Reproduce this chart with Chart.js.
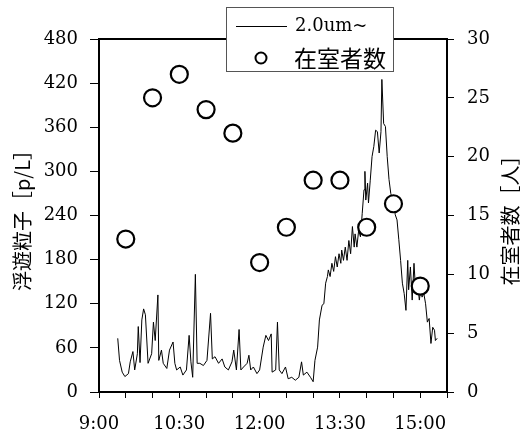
<!DOCTYPE html>
<html>
<head>
<meta charset="utf-8">
<script src="https://cdn.jsdelivr.net/npm/chart.js@4.4.1/dist/chart.umd.min.js"></script>
<style>
  body { margin: 0; background: #fff; }
  canvas { display: block; }
</style>
</head>
<body>
<canvas id="myChart" width="522" height="445"></canvas>
<script>
(function () {
    'use strict'

    // airborne particles >= 2.0um, minutes after 9:00 and p/L
    const dustMinutes = [21, 23, 26, 29, 33, 35, 38, 40, 43, 44, 46, 48, 50, 52, 55, 59, 61, 63, 66, 67,
        70, 72, 76, 79, 83, 85, 87, 91, 94, 98, 101, 103, 105, 108, 110, 113, 117, 121, 125, 127,
        130, 134, 138, 141, 145, 149, 151, 154, 157, 159, 162, 166, 168, 170, 173, 177, 180, 184, 187, 190,
        193, 194, 198, 200, 202, 205, 209, 212, 216, 220, 224, 227, 229, 233, 237, 240, 242, 245, 247, 250,
        252, 254, 256, 257, 259, 261, 263, 265, 267, 269, 271, 272, 274, 276, 278, 280, 282, 284, 286, 287,
        289, 291, 293, 295, 297, 298, 299, 301, 302, 304, 306, 308, 310, 312, 314, 316, 317, 319, 321, 323,
        325, 327, 329, 331, 332, 334, 336, 338, 340, 342, 344, 346, 347, 349, 351, 353, 355, 357, 359, 361,
        362, 364, 366, 368, 370, 372, 374, 376, 377, 379]
    const dustValues = [73, 43, 27, 21, 25, 41, 55, 30, 52, 89, 40, 98, 113, 105, 39, 52, 95, 70, 132, 43,
        57, 39, 32, 57, 68, 39, 30, 34, 23, 30, 77, 41, 20, 160, 39, 39, 36, 43, 107, 45,
        48, 39, 45, 34, 30, 41, 57, 30, 85, 30, 34, 39, 50, 30, 34, 25, 30, 61, 77, 70,
        79, 27, 30, 95, 30, 25, 34, 18, 20, 16, 20, 41, 23, 27, 20, 14, 43, 61, 98, 118,
        120, 148, 157, 166, 157, 175, 164, 184, 170, 188, 175, 193, 179, 197, 179, 206, 188, 225, 197, 215,
        197, 220, 211, 243, 275, 300, 261, 284, 257, 288, 320, 334, 356, 354, 325, 354, 425, 365, 361, 320,
        289, 270, 261, 252, 241, 234, 207, 179, 148, 134, 111, 179, 139, 170, 125, 175, 134, 148, 125, 143,
        129, 134, 120, 95, 100, 66, 88, 84, 70, 73]

    // people in the room, every 30 minutes from 9:30
    const occupantMinutes = [30, 60, 90, 120, 150, 180, 210, 240, 270, 300, 330, 360]
    const occupantCounts = [13, 25, 27, 24, 22, 11, 14, 18, 18, 14, 16, 9]

    const timeLabels = ['9:00', '10:30', '12:00', '13:30', '15:00']
    const leftTitle = '浮遊粒子［p/L］'
    const rightTitle = '在室者数［人］'

    const tickFont = { family: 'DejaVu Serif', size: 18 }
    const cjkFont = '"Noto Sans CJK JP"'

    const boxAndTitles = {
        id: 'boxAndTitles',
        afterDraw(chart) {
            const ctx = chart.ctx
            const a = chart.chartArea
            const ds = chart.data.datasets
            ctx.save()
            // top frame line
            ctx.strokeStyle = '#000'
            ctx.lineWidth = 2
            ctx.beginPath()
            ctx.moveTo(a.left - 1, a.top)
            ctx.lineTo(a.right + 1, a.top)
            ctx.stroke()

            // axis titles, both read bottom to top
            ctx.fillStyle = '#000'
            ctx.font = '20px ' + cjkFont
            ctx.textAlign = 'center'
            ctx.textBaseline = 'middle'
            ctx.save()
            ctx.translate(22, (a.top + a.bottom) / 2)
            ctx.rotate(-Math.PI / 2)
            ctx.fillText(leftTitle, 0, 0)
            ctx.restore()
            ctx.save()
            ctx.translate(510, (a.top + a.bottom) / 2)
            ctx.rotate(-Math.PI / 2)
            ctx.fillText(rightTitle, 0, 0)
            ctx.restore()

            // legend box
            ctx.fillStyle = '#fff'
            ctx.fillRect(226, 7, 167.5, 65)
            ctx.strokeStyle = '#555'
            ctx.lineWidth = 1
            ctx.strokeRect(226.5, 7.5, 167, 64)

            ctx.strokeStyle = '#000'
            ctx.lineWidth = 1
            ctx.beginPath()
            ctx.moveTo(236, 26.5)
            ctx.lineTo(287, 26.5)
            ctx.stroke()
            ctx.lineWidth = 2
            ctx.beginPath()
            ctx.arc(261, 58, 5.5, 0, Math.PI * 2)
            ctx.stroke()

            ctx.fillStyle = '#000'
            ctx.textAlign = 'left'
            ctx.font = '18px "DejaVu Serif"'
            ctx.fillText(ds[0].label, 295, 26)
            ctx.font = '23px ' + cjkFont
            ctx.fillText(ds[1].label, 294, 58)
            ctx.restore()
        }
    }

    const data = {
        datasets: [
            {
                label: '2.0um~',
                data: dustMinutes.map((m, i) => ({ x: m, y: dustValues[i] })),
                yAxisID: 'y',
                borderColor: '#000',
                borderWidth: 1,
                pointRadius: 0,
                tension: 0,
                order: 1
            },
            {
                label: '在室者数',
                data: occupantMinutes.map((m, i) => ({ x: m, y: occupantCounts[i] })),
                yAxisID: 'y1',
                showLine: false,
                pointRadius: 8.5,
                pointBorderWidth: 2.2,
                pointBorderColor: '#000',
                pointBackgroundColor: '#fff',
                order: 0
            }
        ]
    }

    const config = {
        type: 'line',
        data: data,
        plugins: [boxAndTitles],
        options: {
            responsive: false,
            animation: false,
            devicePixelRatio: 1,
            layout: { padding: { top: 39, left: 0, right: 0, bottom: 0 } },
            plugins: {
                legend: { display: false },
                tooltip: { enabled: false }
            },
            scales: {
                x: {
                    type: 'linear',
                    position: 'bottom',
                    min: 0,
                    max: 390,
                    afterFit(s) { s.height = 53 },
                    ticks: {
                        stepSize: 30,
                        autoSkip: false,
                        maxRotation: 0,
                        padding: 16,
                        color: '#000',
                        font: tickFont,
                        callback: (v) => (v % 90 === 0 && v / 90 < timeLabels.length) ? timeLabels[v / 90] : ''
                    },
                    grid: { drawOnChartArea: false, tickLength: 6, color: '#000' },
                    border: { color: '#000', width: 2 }
                },
                y: {
                    position: 'left',
                    min: 0,
                    max: 480,
                    afterFit(s) { s.width = 99 },
                    ticks: { stepSize: 60, padding: 12, color: '#000', font: tickFont },
                    grid: { drawOnChartArea: false, tickLength: 9, color: '#000' },
                    border: { color: '#000', width: 2 }
                },
                y1: {
                    position: 'right',
                    min: 0,
                    max: 30,
                    afterFit(s) { s.width = 75 },
                    ticks: { stepSize: 5, padding: 13, color: '#000', font: tickFont },
                    grid: { drawOnChartArea: false, tickLength: 7, color: '#000' },
                    border: { color: '#000', width: 2 }
                }
            }
        }
    }

    const myChart = new Chart(document.getElementById('myChart').getContext('2d'), config)
})()
</script>
</body>
</html>
